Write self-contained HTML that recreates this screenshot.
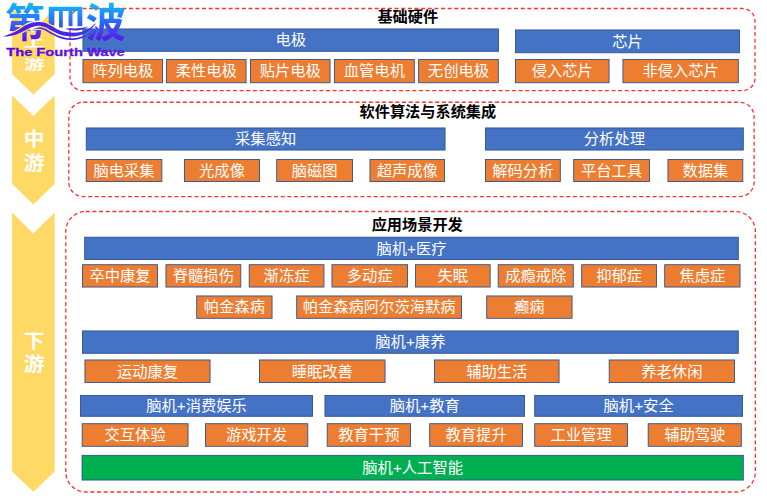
<!DOCTYPE html>
<html lang="zh-CN"><head><meta charset="utf-8"><title>脑机接口产业链</title>
<style>
html,body{margin:0;padding:0;background:#fff;}
body{width:767px;height:500px;position:relative;overflow:hidden;font-family:"Liberation Sans","Noto Sans CJK SC",sans-serif;}
#art{position:absolute;left:0;top:0;width:767px;height:500px;}
.b{position:absolute;display:flex;align-items:center;justify-content:center;color:#fff;font-size:15.3px;line-height:1;white-space:nowrap;}
.t{position:absolute;transform:translate(-50%,-50%);font-weight:bold;font-size:15.2px;line-height:1;color:#000;white-space:nowrap;}
.v{position:absolute;text-align:center;color:#fff;font-weight:bold;font-size:19.5px;white-space:nowrap;}
#logo{position:absolute;left:0;top:0;width:140px;height:62px;}
</style></head><body>

<svg id="art" width="767" height="500" viewBox="0 0 767 500">
<path fill="#ffd966" d="M12.1 7.2 L33 32.5 L54.7 7.2 L54.7 74 L33.35 94.6 L12.1 74 Z"/>
<path fill="#ffd966" d="M12.1 95.6 L33.35 116 L54.7 95.6 L54.7 183.7 L33.35 204.6 L12.1 183.7 Z"/>
<path fill="#ffd966" d="M12.1 212.6 L33.35 233.4 L54.7 212.6 L54.7 471.6 L33.35 491.7 L12.1 471.6 Z"/>
<rect x="70" y="8.5" width="685" height="82.1" rx="12.5" ry="12.5" fill="none" stroke="#ff3030" stroke-width="1.3" stroke-dasharray="4 2.64"/>
<rect x="68.8" y="102.25" width="685.3000000000001" height="94.35" rx="14.5" ry="14.5" fill="none" stroke="#ff3030" stroke-width="1.3" stroke-dasharray="4 2.64"/>
<rect x="65.8" y="211.5" width="689.6" height="280.5" rx="20" ry="20" fill="none" stroke="#ff3030" stroke-width="1.3" stroke-dasharray="4 2.64"/>
<rect x="82.95" y="28.95" width="415.50" height="22.35" fill="#4472c4" stroke="#2f528f" stroke-width="0.9"/>
<rect x="515.55" y="29.95" width="224.00" height="22.80" fill="#4472c4" stroke="#2f528f" stroke-width="0.9"/>
<rect x="86.25" y="127.95" width="358.80" height="22.10" fill="#4472c4" stroke="#2f528f" stroke-width="0.9"/>
<rect x="485.45" y="127.95" width="257.85" height="22.10" fill="#4472c4" stroke="#2f528f" stroke-width="0.9"/>
<rect x="84.70" y="237.20" width="653.60" height="22.35" fill="#4472c4" stroke="#2f528f" stroke-width="0.9"/>
<rect x="82.45" y="330.95" width="655.85" height="22.35" fill="#4472c4" stroke="#2f528f" stroke-width="0.9"/>
<rect x="80.45" y="395.45" width="232.10" height="20.85" fill="#4472c4" stroke="#2f528f" stroke-width="0.9"/>
<rect x="324.95" y="395.45" width="199.60" height="20.85" fill="#4472c4" stroke="#2f528f" stroke-width="0.9"/>
<rect x="534.70" y="395.45" width="207.85" height="20.85" fill="#4472c4" stroke="#2f528f" stroke-width="0.9"/>
<rect x="82.05" y="455.35" width="661.25" height="24.70" fill="#00b050" stroke="#2f528f" stroke-width="0.9"/>
<rect x="82.95" y="59.45" width="79.60" height="23.30" fill="#ed7d31" stroke="#2f528f" stroke-width="0.9"/>
<rect x="166.45" y="59.45" width="79.60" height="23.30" fill="#ed7d31" stroke="#2f528f" stroke-width="0.9"/>
<rect x="250.45" y="59.45" width="79.60" height="23.30" fill="#ed7d31" stroke="#2f528f" stroke-width="0.9"/>
<rect x="334.45" y="59.45" width="79.85" height="23.30" fill="#ed7d31" stroke="#2f528f" stroke-width="0.9"/>
<rect x="418.65" y="59.45" width="79.65" height="23.30" fill="#ed7d31" stroke="#2f528f" stroke-width="0.9"/>
<rect x="515.45" y="59.45" width="93.60" height="23.30" fill="#ed7d31" stroke="#2f528f" stroke-width="0.9"/>
<rect x="622.95" y="59.45" width="115.35" height="23.30" fill="#ed7d31" stroke="#2f528f" stroke-width="0.9"/>
<rect x="86.25" y="159.45" width="75.60" height="22.10" fill="#ed7d31" stroke="#2f528f" stroke-width="0.9"/>
<rect x="184.45" y="159.45" width="75.10" height="22.10" fill="#ed7d31" stroke="#2f528f" stroke-width="0.9"/>
<rect x="276.70" y="159.45" width="75.85" height="22.10" fill="#ed7d31" stroke="#2f528f" stroke-width="0.9"/>
<rect x="369.95" y="159.45" width="74.60" height="22.10" fill="#ed7d31" stroke="#2f528f" stroke-width="0.9"/>
<rect x="485.45" y="159.45" width="74.85" height="22.10" fill="#ed7d31" stroke="#2f528f" stroke-width="0.9"/>
<rect x="573.70" y="159.45" width="75.85" height="22.10" fill="#ed7d31" stroke="#2f528f" stroke-width="0.9"/>
<rect x="667.95" y="159.45" width="74.85" height="22.10" fill="#ed7d31" stroke="#2f528f" stroke-width="0.9"/>
<rect x="82.45" y="264.70" width="75.10" height="22.35" fill="#ed7d31" stroke="#2f528f" stroke-width="0.9"/>
<rect x="165.95" y="264.70" width="74.85" height="22.35" fill="#ed7d31" stroke="#2f528f" stroke-width="0.9"/>
<rect x="249.20" y="264.70" width="74.75" height="22.35" fill="#ed7d31" stroke="#2f528f" stroke-width="0.9"/>
<rect x="331.95" y="264.70" width="75.60" height="22.35" fill="#ed7d31" stroke="#2f528f" stroke-width="0.9"/>
<rect x="415.45" y="264.70" width="74.70" height="22.35" fill="#ed7d31" stroke="#2f528f" stroke-width="0.9"/>
<rect x="498.20" y="264.70" width="75.10" height="22.35" fill="#ed7d31" stroke="#2f528f" stroke-width="0.9"/>
<rect x="581.70" y="264.70" width="74.85" height="22.35" fill="#ed7d31" stroke="#2f528f" stroke-width="0.9"/>
<rect x="664.70" y="264.70" width="75.35" height="22.35" fill="#ed7d31" stroke="#2f528f" stroke-width="0.9"/>
<rect x="196.70" y="295.95" width="75.35" height="22.35" fill="#ed7d31" stroke="#2f528f" stroke-width="0.9"/>
<rect x="296.70" y="295.95" width="164.85" height="22.35" fill="#ed7d31" stroke="#2f528f" stroke-width="0.9"/>
<rect x="486.70" y="295.95" width="85.35" height="22.35" fill="#ed7d31" stroke="#2f528f" stroke-width="0.9"/>
<rect x="84.95" y="359.95" width="125.10" height="22.60" fill="#ed7d31" stroke="#2f528f" stroke-width="0.9"/>
<rect x="259.45" y="359.95" width="125.60" height="22.60" fill="#ed7d31" stroke="#2f528f" stroke-width="0.9"/>
<rect x="434.45" y="359.95" width="124.60" height="22.60" fill="#ed7d31" stroke="#2f528f" stroke-width="0.9"/>
<rect x="609.20" y="359.95" width="125.35" height="22.60" fill="#ed7d31" stroke="#2f528f" stroke-width="0.9"/>
<rect x="82.20" y="423.70" width="105.85" height="22.60" fill="#ed7d31" stroke="#2f528f" stroke-width="0.9"/>
<rect x="205.45" y="423.70" width="102.35" height="22.60" fill="#ed7d31" stroke="#2f528f" stroke-width="0.9"/>
<rect x="327.20" y="423.70" width="83.35" height="22.60" fill="#ed7d31" stroke="#2f528f" stroke-width="0.9"/>
<rect x="429.70" y="423.70" width="92.85" height="22.60" fill="#ed7d31" stroke="#2f528f" stroke-width="0.9"/>
<rect x="534.70" y="423.70" width="92.85" height="22.60" fill="#ed7d31" stroke="#2f528f" stroke-width="0.9"/>
<rect x="648.20" y="423.70" width="93.10" height="22.60" fill="#ed7d31" stroke="#2f528f" stroke-width="0.9"/>
</svg>
<div class="b bl" style="left:82.5px;top:28.5px;width:416.40px;height:23.25px">电极</div>
<div class="b bl" style="left:515.1px;top:29.5px;width:224.90px;height:23.70px">芯片</div>
<div class="b bl" style="left:85.8px;top:127.5px;width:359.70px;height:23.00px">采集感知</div>
<div class="b bl" style="left:485px;top:127.5px;width:258.75px;height:23.00px">分析处理</div>
<div class="b bl" style="left:84.25px;top:236.75px;width:654.50px;height:23.25px">脑机+医疗</div>
<div class="b bl" style="left:82px;top:330.5px;width:656.75px;height:23.25px">脑机+康养</div>
<div class="b bl" style="left:80px;top:395px;width:233.00px;height:21.75px">脑机+消费娱乐</div>
<div class="b bl" style="left:324.5px;top:395px;width:200.50px;height:21.75px">脑机+教育</div>
<div class="b bl" style="left:534.25px;top:395px;width:208.75px;height:21.75px">脑机+安全</div>
<div class="b gr" style="left:81.6px;top:454.9px;width:662.15px;height:25.60px">脑机+人工智能</div>
<div class="b or" style="left:82.5px;top:59px;width:80.50px;height:24.20px">阵列电极</div>
<div class="b or" style="left:166px;top:59px;width:80.50px;height:24.20px">柔性电极</div>
<div class="b or" style="left:250px;top:59px;width:80.50px;height:24.20px">贴片电极</div>
<div class="b or" style="left:334px;top:59px;width:80.75px;height:24.20px">血管电机</div>
<div class="b or" style="left:418.2px;top:59px;width:80.55px;height:24.20px">无创电极</div>
<div class="b or" style="left:515px;top:59px;width:94.50px;height:24.20px">侵入芯片</div>
<div class="b or" style="left:622.5px;top:59px;width:116.25px;height:24.20px">非侵入芯片</div>
<div class="b or" style="left:85.8px;top:159px;width:76.50px;height:23.00px">脑电采集</div>
<div class="b or" style="left:184px;top:159px;width:76.00px;height:23.00px">光成像</div>
<div class="b or" style="left:276.25px;top:159px;width:76.75px;height:23.00px">脑磁图</div>
<div class="b or" style="left:369.5px;top:159px;width:75.50px;height:23.00px">超声成像</div>
<div class="b or" style="left:485px;top:159px;width:75.75px;height:23.00px">解码分析</div>
<div class="b or" style="left:573.25px;top:159px;width:76.75px;height:23.00px">平台工具</div>
<div class="b or" style="left:667.5px;top:159px;width:75.75px;height:23.00px">数据集</div>
<div class="b or" style="left:82px;top:264.25px;width:76.00px;height:23.25px">卒中康复</div>
<div class="b or" style="left:165.5px;top:264.25px;width:75.75px;height:23.25px">脊髓损伤</div>
<div class="b or" style="left:248.75px;top:264.25px;width:75.65px;height:23.25px">渐冻症</div>
<div class="b or" style="left:331.5px;top:264.25px;width:76.50px;height:23.25px">多动症</div>
<div class="b or" style="left:415px;top:264.25px;width:75.60px;height:23.25px">失眠</div>
<div class="b or" style="left:497.75px;top:264.25px;width:76.00px;height:23.25px">成瘾戒除</div>
<div class="b or" style="left:581.25px;top:264.25px;width:75.75px;height:23.25px">抑郁症</div>
<div class="b or" style="left:664.25px;top:264.25px;width:76.25px;height:23.25px">焦虑症</div>
<div class="b or" style="left:196.25px;top:295.5px;width:76.25px;height:23.25px">帕金森病</div>
<div class="b or" style="left:296.25px;top:295.5px;width:165.75px;height:23.25px">帕金森病阿尔茨海默病</div>
<div class="b or" style="left:486.25px;top:295.5px;width:86.25px;height:23.25px">癫痫</div>
<div class="b or" style="left:84.5px;top:359.5px;width:126.00px;height:23.50px">运动康复</div>
<div class="b or" style="left:259px;top:359.5px;width:126.50px;height:23.50px">睡眠改善</div>
<div class="b or" style="left:434px;top:359.5px;width:125.50px;height:23.50px">辅助生活</div>
<div class="b or" style="left:608.75px;top:359.5px;width:126.25px;height:23.50px">养老休闲</div>
<div class="b or" style="left:81.75px;top:423.25px;width:106.75px;height:23.50px">交互体验</div>
<div class="b or" style="left:205px;top:423.25px;width:103.25px;height:23.50px">游戏开发</div>
<div class="b or" style="left:326.75px;top:423.25px;width:84.25px;height:23.50px">教育干预</div>
<div class="b or" style="left:429.25px;top:423.25px;width:93.75px;height:23.50px">教育提升</div>
<div class="b or" style="left:534.25px;top:423.25px;width:93.75px;height:23.50px">工业管理</div>
<div class="b or" style="left:647.75px;top:423.25px;width:94.00px;height:23.50px">辅助驾驶</div>
<div class="t" style="left:407.8px;top:17.0px">基础硬件</div>
<div class="t" style="left:427.9px;top:112.1px">软件算法与系统集成</div>
<div class="t" style="left:417.2px;top:225.2px">应用场景开发</div>
<div class="v" style="left:33.9px;top:53.25px;line-height:35.07px;transform:translate(-50%,-50%) scale(1.06,0.67)">上<br>游</div>
<div class="v" style="left:34.2px;top:151.3px;line-height:23.40px;transform:translate(-50%,-50%) scale(1.06,1)">中<br>游</div>
<div class="v" style="left:34.1px;top:353.2px;line-height:22.80px;transform:translate(-50%,-50%) scale(1.06,1)">下<br>游</div>
<svg id="logo" width="140" height="62" viewBox="0 0 140 62">
<defs><linearGradient id="lg" gradientUnits="userSpaceOnUse" x1="0" y1="3" x2="0" y2="41"><stop offset="0" stop-color="#14b8f6"/><stop offset="0.22" stop-color="#1e98fa"/><stop offset="0.5" stop-color="#2b68fa"/><stop offset="0.78" stop-color="#4a36f0"/><stop offset="1" stop-color="#5c12e6"/></linearGradient>
<linearGradient id="lgw" gradientUnits="userSpaceOnUse" x1="0" y1="0" x2="100" y2="0"><stop offset="0" stop-color="#5a14e6"/><stop offset="1" stop-color="#3b34f0"/></linearGradient>
<linearGradient id="lg2" gradientUnits="userSpaceOnUse" x1="0" y1="0" x2="130" y2="0"><stop offset="0" stop-color="#5a00e0"/><stop offset="1" stop-color="#5525e2"/></linearGradient></defs>
<mask id="ko" maskUnits="userSpaceOnUse" x="0" y="0" width="140" height="62"><rect x="0" y="0" width="140" height="62" fill="#fff"/><g fill="#000" stroke="#000" stroke-width="2.6" stroke-linejoin="round"><path d="M2.90 36.00 C3.50 35.87 4.27 35.98 6.50 35.20 C8.73 34.42 13.05 32.98 16.30 31.30 C19.55 29.62 23.28 26.57 26.00 25.10 C28.72 23.63 30.42 23.03 32.60 22.50 C34.78 21.97 36.98 21.82 39.10 21.90 C41.22 21.98 43.32 22.35 45.30 23.00 C47.28 23.65 48.67 24.58 51.00 25.80 C53.33 27.02 56.72 29.25 59.30 30.30 C61.88 31.35 64.10 31.68 66.50 32.10 C68.90 32.52 71.32 32.80 73.70 32.80 C76.08 32.80 78.42 32.68 80.80 32.10 C83.18 31.52 85.48 30.82 88.00 29.30 C90.52 27.78 94.58 24.05 95.90 23.00 C95.67 23.40 95.82 24.00 94.50 25.40 C93.18 26.80 90.28 29.80 88.00 31.40 C85.72 33.00 83.18 34.17 80.80 35.00 C78.42 35.83 76.08 36.22 73.70 36.40 C71.32 36.58 68.90 36.45 66.50 36.10 C64.10 35.75 61.88 35.28 59.30 34.30 C56.72 33.32 53.33 31.38 51.00 30.20 C48.67 29.02 47.28 27.93 45.30 27.20 C43.32 26.47 41.22 25.82 39.10 25.80 C36.98 25.78 34.78 26.40 32.60 27.10 C30.42 27.80 28.72 28.75 26.00 30.00 C23.28 31.25 19.55 33.52 16.30 34.60 C13.05 35.68 8.73 36.27 6.50 36.50 C4.27 36.73 3.50 36.08 2.90 36.00 Z"/><path d="M31.00 29.60 C32.35 29.23 36.72 27.55 39.10 27.40 C41.48 27.25 43.12 27.80 45.30 28.70 C47.48 29.60 49.87 31.57 52.20 32.80 C54.53 34.03 56.92 35.25 59.30 36.10 C61.68 36.95 64.10 37.55 66.50 37.90 C68.90 38.25 71.32 38.38 73.70 38.20 C76.08 38.02 78.42 37.52 80.80 36.80 C83.18 36.08 85.70 35.27 88.00 33.90 C90.30 32.53 93.50 29.48 94.60 28.60 C94.42 28.90 94.60 29.33 93.50 30.40 C92.40 31.47 90.12 33.63 88.00 35.00 C85.88 36.37 83.18 37.77 80.80 38.60 C78.42 39.43 76.08 39.82 73.70 40.00 C71.32 40.18 68.90 40.05 66.50 39.70 C64.10 39.35 61.68 38.75 59.30 37.90 C56.92 37.05 54.53 35.85 52.20 34.60 C49.87 33.35 47.48 31.38 45.30 30.40 C43.12 29.42 41.48 28.83 39.10 28.70 C36.72 28.57 32.35 29.45 31.00 29.60 Z"/><path d="M65.40 28.90 C66.17 28.80 68.40 28.38 70.00 28.30 C71.60 28.22 73.33 28.45 75.00 28.40 C76.67 28.35 78.33 28.20 80.00 28.00 C81.67 27.80 83.58 27.48 85.00 27.20 C86.42 26.92 87.92 26.45 88.50 26.30 C87.92 26.65 86.42 27.78 85.00 28.40 C83.58 29.02 81.67 29.65 80.00 30.00 C78.33 30.35 76.67 30.50 75.00 30.50 C73.33 30.50 71.60 30.27 70.00 30.00 C68.40 29.73 66.17 29.08 65.40 28.90 Z"/></g><path d="M0 31 L17 31 L22.3 29 L22.3 46 L0 46 Z" fill="#000"/></mask>
<g fill="url(#lg)" mask="url(#ko)">
<text x="24.8" y="37" text-anchor="middle" font-family="'Liberation Sans','Noto Sans CJK SC',sans-serif" font-weight="bold" font-size="40">第</text>
<text x="105.7" y="37" text-anchor="middle" font-family="'Liberation Sans','Noto Sans CJK SC',sans-serif" font-weight="bold" font-size="40">波</text>
<path d="M48.7 6.75 H81.3 Q82.3 6.75 82.3 7.75 V26.2 H77.5 V11 H72.5 V26 H68.6 V11 H62.8 V27.6 H59 V11 H54.3 V25 H48.7 Z"/>
</g>
<g fill="url(#lgw)"><path d="M2.90 36.00 C3.50 35.87 4.27 35.98 6.50 35.20 C8.73 34.42 13.05 32.98 16.30 31.30 C19.55 29.62 23.28 26.57 26.00 25.10 C28.72 23.63 30.42 23.03 32.60 22.50 C34.78 21.97 36.98 21.82 39.10 21.90 C41.22 21.98 43.32 22.35 45.30 23.00 C47.28 23.65 48.67 24.58 51.00 25.80 C53.33 27.02 56.72 29.25 59.30 30.30 C61.88 31.35 64.10 31.68 66.50 32.10 C68.90 32.52 71.32 32.80 73.70 32.80 C76.08 32.80 78.42 32.68 80.80 32.10 C83.18 31.52 85.48 30.82 88.00 29.30 C90.52 27.78 94.58 24.05 95.90 23.00 C95.67 23.40 95.82 24.00 94.50 25.40 C93.18 26.80 90.28 29.80 88.00 31.40 C85.72 33.00 83.18 34.17 80.80 35.00 C78.42 35.83 76.08 36.22 73.70 36.40 C71.32 36.58 68.90 36.45 66.50 36.10 C64.10 35.75 61.88 35.28 59.30 34.30 C56.72 33.32 53.33 31.38 51.00 30.20 C48.67 29.02 47.28 27.93 45.30 27.20 C43.32 26.47 41.22 25.82 39.10 25.80 C36.98 25.78 34.78 26.40 32.60 27.10 C30.42 27.80 28.72 28.75 26.00 30.00 C23.28 31.25 19.55 33.52 16.30 34.60 C13.05 35.68 8.73 36.27 6.50 36.50 C4.27 36.73 3.50 36.08 2.90 36.00 Z"/><path d="M31.00 29.60 C32.35 29.23 36.72 27.55 39.10 27.40 C41.48 27.25 43.12 27.80 45.30 28.70 C47.48 29.60 49.87 31.57 52.20 32.80 C54.53 34.03 56.92 35.25 59.30 36.10 C61.68 36.95 64.10 37.55 66.50 37.90 C68.90 38.25 71.32 38.38 73.70 38.20 C76.08 38.02 78.42 37.52 80.80 36.80 C83.18 36.08 85.70 35.27 88.00 33.90 C90.30 32.53 93.50 29.48 94.60 28.60 C94.42 28.90 94.60 29.33 93.50 30.40 C92.40 31.47 90.12 33.63 88.00 35.00 C85.88 36.37 83.18 37.77 80.80 38.60 C78.42 39.43 76.08 39.82 73.70 40.00 C71.32 40.18 68.90 40.05 66.50 39.70 C64.10 39.35 61.68 38.75 59.30 37.90 C56.92 37.05 54.53 35.85 52.20 34.60 C49.87 33.35 47.48 31.38 45.30 30.40 C43.12 29.42 41.48 28.83 39.10 28.70 C36.72 28.57 32.35 29.45 31.00 29.60 Z"/><path d="M65.40 28.90 C66.17 28.80 68.40 28.38 70.00 28.30 C71.60 28.22 73.33 28.45 75.00 28.40 C76.67 28.35 78.33 28.20 80.00 28.00 C81.67 27.80 83.58 27.48 85.00 27.20 C86.42 26.92 87.92 26.45 88.50 26.30 C87.92 26.65 86.42 27.78 85.00 28.40 C83.58 29.02 81.67 29.65 80.00 30.00 C78.33 30.35 76.67 30.50 75.00 30.50 C73.33 30.50 71.60 30.27 70.00 30.00 C68.40 29.73 66.17 29.08 65.40 28.90 Z"/></g>
<text x="6.2" y="55.9" font-family="Liberation Sans, sans-serif" font-weight="bold" font-size="11.6" fill="url(#lg2)" stroke="#5a0ee0" stroke-width="0.3" textLength="118.6" lengthAdjust="spacingAndGlyphs">The Fourth Wave</text>
</svg>
</body></html>
